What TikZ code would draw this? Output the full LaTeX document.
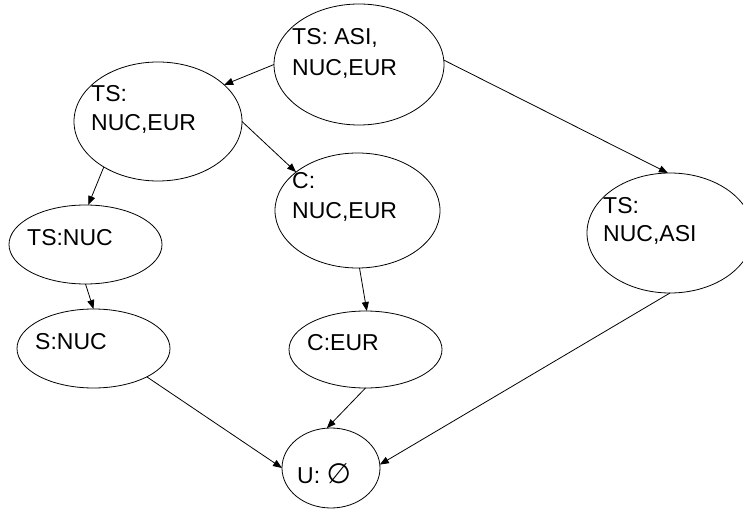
\documentclass[tikz,border=0pt]{standalone}
\usepackage{fontspec}
\setmainfont{Liberation Sans}
\newfontfamily\symfont{DejaVu Sans}
\usetikzlibrary{arrows.meta,shapes.geometric}
\begin{document}
\begin{tikzpicture}[x=1pt,y=-1pt,
  state/.style={draw, ellipse, line width=0.8pt, inner sep=0pt, outer sep=0pt},
  lbl/.style={anchor=base west, inner sep=0pt, font=\fontsize{23}{28}\selectfont},
  link/.style={line width=0.8pt, -{Triangle[length=9pt,width=7pt]}}]
\useasboundingbox (0,0) rectangle (743,510);

% states
\node[state, minimum width=170pt, minimum height=121pt] (all)  at (359,64.5) {};
\node[state, minimum width=168pt, minimum height=119pt] (tsne) at (158,121.5) {};
\node[state, minimum width=165pt, minimum height=115pt] (cne)  at (357.5,210.5) {};
\node[state, minimum width=166pt, minimum height=120pt] (tsna) at (670,233) {};
\node[state, minimum width=153pt, minimum height=79pt]  (tsn)  at (85.5,244.5) {};
\node[state, minimum width=153pt, minimum height=79pt]  (sn)   at (93.5,348.5) {};
\node[state, minimum width=153pt, minimum height=77pt]  (ce)   at (365.5,349.5) {};
\node[state, minimum width=98pt,  minimum height=80pt]  (u)    at (331,468) {};

% labels, one node per line, placed by baseline
\node[lbl] (all-a)  at (292,45)    {TS: ASI,};
\node[lbl] (all-b)  at (292,76)    {NUC,EUR};
\node[lbl] (tsne-a) at (91,102)    {TS:};
\node[lbl] (tsne-b) at (91,131)    {NUC,EUR};
\node[lbl] (cne-a)  at (292,189)   {C:};
\node[lbl] (cne-b)  at (292,219)   {NUC,EUR};
\node[lbl] (tsna-a) at (603,214)   {TS:};
\node[lbl] (tsna-b) at (603,242)   {NUC,ASI};
\node[lbl] (tsn-a)  at (27,245.5)  {TS:NUC};
\node[lbl] (sn-a)   at (35,349)    {S:NUC};
\node[lbl] (ce-a)   at (307,350)   {C:EUR};
\node[lbl] (u-a)    at (297,483)   {U: {\symfont\fontsize{28}{30}\selectfont ∅}};

% transitions
\draw[link] (all.180)  -- (tsne.29);
\draw[link] (all.3)    -- (tsna.92);
\draw[link] (tsne.0)   -- (cne.148);
\draw[link] (tsne.220) -- (tsn.86);
\draw[link] (tsn.270)  -- (sn.90);
\draw[link] (sn.-28)   -- (u.180);
\draw[link] (cne.272)  -- (ce.88);
\draw[link] (ce.270)   -- (u.96);
\draw[link] (tsna.270) -- (u.4);
\end{tikzpicture}
\end{document}
